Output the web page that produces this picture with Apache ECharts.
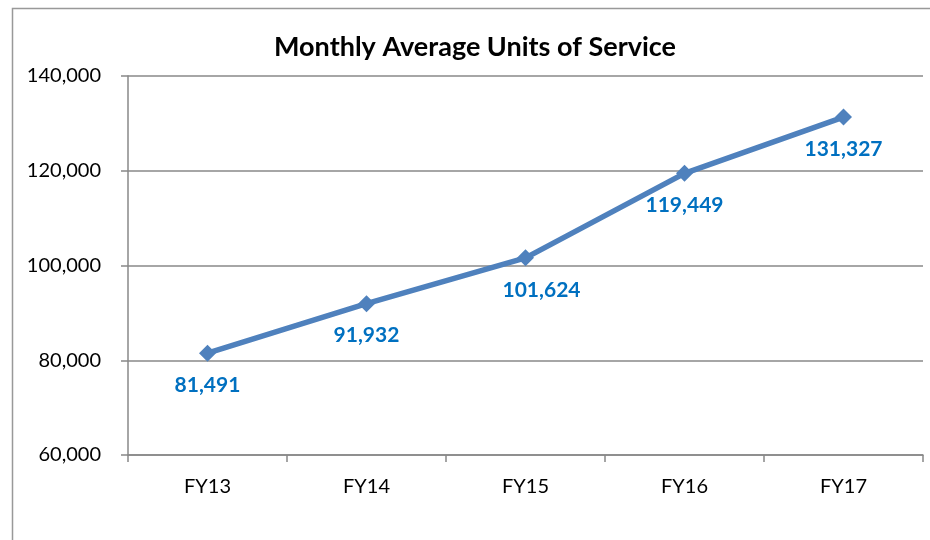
<!DOCTYPE html>
<html><head><meta charset="utf-8">
<script src="https://cdn.jsdelivr.net/npm/echarts@6/dist/echarts.min.js"></script>
<style>html,body{margin:0;padding:0;background:#fff}#c{width:930px;height:540px}</style>
</head><body><div id="c"></div>
<script>
const categories = ['FY13','FY14','FY15','FY16','FY17'];
const values = [81491, 91932, 101624, 119449, 131327];
const titleText = 'Monthly Average Units of Service';
const font = 'Lato, "Open Sans", sans-serif';
const chart = echarts.init(document.getElementById('c'), null, {renderer:'canvas'});
const seriesData = values.map((v, i) => i === 2 ? {value: v, label: {offset: [16, 0]}} : v);
chart.setOption({
  animation:false,
  backgroundColor:'#fff',
  title:{text:titleText,left:470,top:29,textAlign:'center',textStyle:{fontFamily:font,fontWeight:'bold',fontSize:27,color:'#000'}},
  graphic:[{type:'rect',shape:{x:12.5,y:8.5,width:930,height:540},style:{fill:'none',stroke:'#999',lineWidth:1.5},silent:true}],
  grid:{left:128,right:7,top:76,bottom:85},
  xAxis:{type:'category',data:categories,boundaryGap:true,
    axisLine:{lineStyle:{color:'#888',width:1.5}},
    axisTick:{show:true,length:7,lineStyle:{color:'#888',width:1.5}},
    axisLabel:{color:'#000',fontFamily:font,fontSize:20,margin:22}},
  yAxis:{type:'value',min:60000,max:140000,interval:20000,
    axisLine:{show:true,lineStyle:{color:'#888',width:1.5}},
    axisTick:{show:true,length:7,lineStyle:{color:'#888',width:1.5}},
    splitLine:{lineStyle:{color:'#888',width:1.5}},
    axisLabel:{color:'#000',fontFamily:font,fontSize:20,margin:27,
      formatter:v=>v.toLocaleString('en-US')}},
  series:[{type:'line',data:seriesData,symbol:'diamond',symbolSize:17,
    lineStyle:{color:'#4F81BD',width:5.5},itemStyle:{color:'#4F81BD'},
    label:{show:true,position:'bottom',distance:13,color:'#0070C0',fontFamily:font,fontWeight:'bold',fontSize:21,
      formatter:p=>p.value.toLocaleString('en-US')}}]
});
</script></body></html>
